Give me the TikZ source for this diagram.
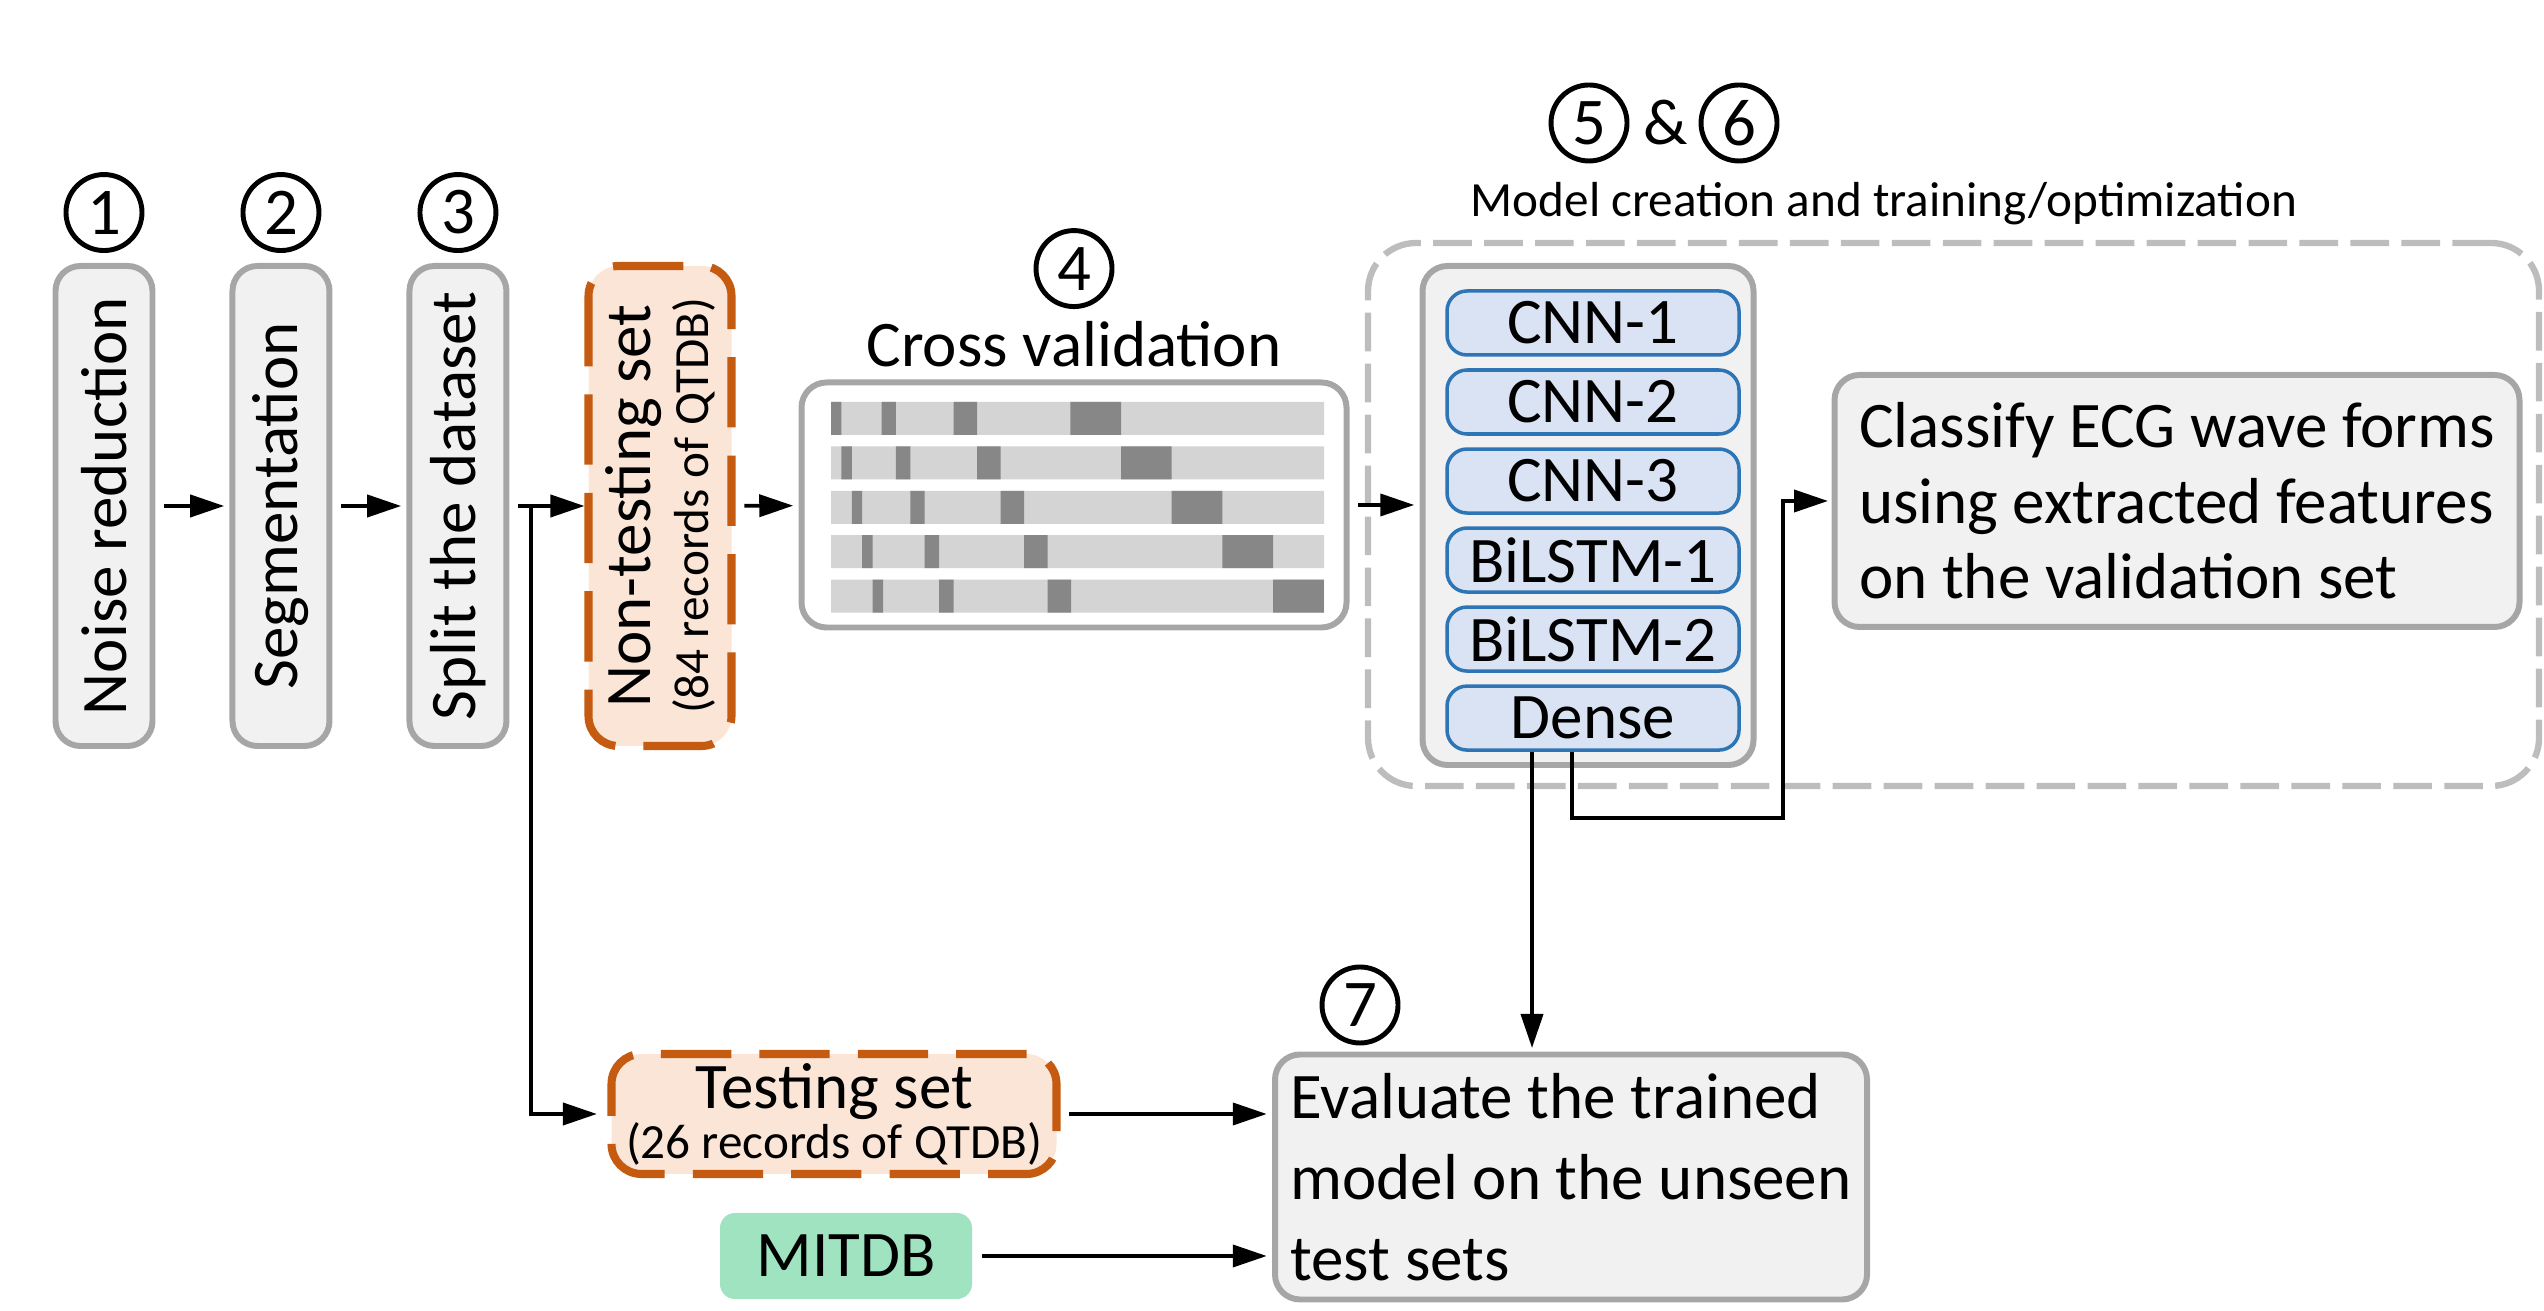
\documentclass[tikz,border=0pt]{standalone}
\usepackage{fontspec}
\usepackage{graphicx}
\setmainfont{Carlito}
\usetikzlibrary{positioning,arrows.meta}

\definecolor{boxgray}{HTML}{F1F1F1}
\definecolor{linegray}{HTML}{A6A6A6}
\definecolor{dashgray}{HTML}{BDBDBD}
\definecolor{setorange}{HTML}{C55A11}
\definecolor{setfill}{HTML}{FBE5D6}
\definecolor{layerblue}{HTML}{2E75B6}
\definecolor{layerfill}{HTML}{DAE3F3}
\definecolor{mitgreen}{HTML}{A0E3C0}
\definecolor{foldlight}{HTML}{D4D4D4}
\definecolor{folddark}{HTML}{878787}

\tikzset{
	stepbox/.style={draw=linegray, fill=boxgray, line width=1.7pt, rounded corners=0.25cm, inner sep=0pt},
	setbox/.style={draw=setorange, fill=setfill, line width=2.3pt, dash pattern=on 20pt off 8pt, rounded corners=0.3cm, inner sep=0pt},
	layer/.style={draw=layerblue, fill=layerfill, line width=1pt, rounded corners=0.2cm, minimum width=2.92cm, minimum height=0.64cm, inner sep=0pt},
	num/.style={circle, draw, line width=1.4pt, minimum size=0.76cm, inner sep=0pt, font=\fontsize{19}{19}\selectfont},
	flow/.style={->, line width=1.1pt},
	small/.style={font=\fontsize{14}{14.2}\selectfont}
}

\begin{document}
\begin{tikzpicture}[>={Triangle[length=0.34cm,width=0.22cm]}, font=\fontsize{18.5}{22}\selectfont]
	\useasboundingbox (0,0) rectangle (25.44,13.11);

	% preprocessing steps
	\node[stepbox, minimum width=0.97cm, minimum height=4.8cm]	(noise)	at (1.04,8.05)	{\rotatebox{90}{Noise reduction}};
	\node[stepbox, minimum width=0.97cm, minimum height=4.8cm]	(seg)	[right=0.74cm of noise]	{\rotatebox{90}{Segmentation}};
	\node[stepbox, minimum width=0.97cm, minimum height=4.8cm]	(split)	[right=0.74cm of seg]	{\rotatebox{90}{Split the dataset}};
	\node[setbox, rotate=90, minimum width=4.8cm, minimum height=1.43cm, align=center, font=\fontsize{14}{16.5}\selectfont]	(nontest)	at (6.60,8.05)
		{{\fontsize{18.5}{16.5}\selectfont Non-testing set}\\(84 records of QTDB)};
	\node[num]	(n1)	[above=0.1cm of noise]	{1};
	\node[num]	(n2)	[above=0.1cm of seg]	{2};
	\node[num]	(n3)	[above=0.1cm of split]	{3};

	% cross validation
	\node[stepbox, fill=white, minimum width=5.45cm, minimum height=2.45cm]	(cv)	at (10.74,8.06)	{};
	\node	(cvlabel)	[above=0cm of cv]	{Cross validation};
	\node[num]	(n4)	[above=0cm of cvlabel]	{4};
	\fill[foldlight] (8.31,9.09) rectangle (13.24,8.76) (8.31,8.646) rectangle (13.24,8.316) (8.31,8.202) rectangle (13.24,7.872)
		(8.31,7.758) rectangle (13.24,7.428) (8.31,7.314) rectangle (13.24,6.984);
	\fill[folddark] (8.310,9.09) rectangle (8.414,8.76) (8.815,9.09) rectangle (8.959,8.76) (9.536,9.09) rectangle (9.771,8.76) (10.703,9.09) rectangle (11.210,8.76);
	\fill[folddark] (8.414,8.646) rectangle (8.518,8.316) (8.959,8.646) rectangle (9.103,8.316) (9.771,8.646) rectangle (10.006,8.316) (11.210,8.646) rectangle (11.717,8.316);
	\fill[folddark] (8.518,8.202) rectangle (8.622,7.872) (9.103,8.202) rectangle (9.247,7.872) (10.006,8.202) rectangle (10.241,7.872) (11.717,8.202) rectangle (12.224,7.872);
	\fill[folddark] (8.622,7.758) rectangle (8.726,7.428) (9.247,7.758) rectangle (9.391,7.428) (10.241,7.758) rectangle (10.476,7.428) (12.224,7.758) rectangle (12.731,7.428);
	\fill[folddark] (8.726,7.314) rectangle (8.830,6.984) (9.391,7.314) rectangle (9.535,6.984) (10.476,7.314) rectangle (10.711,6.984) (12.731,7.314) rectangle (13.238,6.984);

	% model creation and training
	\node[draw=dashgray, line width=1.8pt, dash pattern=on 11pt off 3.5pt, rounded corners=0.48cm, minimum width=11.71cm, minimum height=5.43cm]	(stage)	at (19.535,7.965)	{};
	\node[stepbox, minimum width=3.31cm, minimum height=4.99cm]	(model)	at (15.88,7.955)	{};
	\node[layer]	(cnn1)	at (15.93,9.88)	{CNN-1};
	\node[layer]	(cnn2)	[below=0.115cm of cnn1]	{CNN-2};
	\node[layer]	(cnn3)	[below=0.115cm of cnn2]	{CNN-3};
	\node[layer]	(lstm1)	[below=0.115cm of cnn3]	{BiLSTM-1};
	\node[layer]	(lstm2)	[below=0.115cm of lstm1]	{BiLSTM-2};
	\node[layer]	(dense)	[below=0.115cm of lstm2]	{Dense};
	\node[stepbox, minimum width=6.85cm, minimum height=2.52cm, align=left, font=\fontsize{18.5}{21.5}\selectfont]	(classify)	at (21.77,8.10)
		{Classify ECG wave forms\\using extracted features\\on the validation set};
	\node[num]	(n5)	at (15.89,11.88)	{5};
	\node		(amp)	at (16.66,11.88)	{\&};
	\node[num]	(n6)	at (17.39,11.88)	{6};
	\node[small]	(stagelabel)	at (18.84,11.07)	{Model creation and training/optimization};

	% evaluation
	\node[setbox, minimum width=4.45cm, minimum height=1.2cm, align=center, small]	(testing)	at (8.34,1.97)
		{{\fontsize{18.5}{14.2}\selectfont Testing set}\\(26 records of QTDB)};
	\node[fill=mitgreen, rounded corners=0.15cm, minimum width=2.52cm, minimum height=0.86cm]	(mitdb)	at (8.46,0.55)	{MITDB};
	\node[stepbox, minimum width=5.92cm, minimum height=2.45cm, align=left, font=\fontsize{18.5}{23}\selectfont]	(eval)	at (15.71,1.34)
		{Evaluate the trained\\model on the unseen\\test sets};
	\node[num]	(n7)	at (13.60,3.06)	{7};

	% connectors
	\coordinate[right=0.215cm of split]	(fork);
	\coordinate	(bend)	at (17.83,4.93);
	\path[flow, shorten <=2.5pt, shorten >=1.5pt]
		(noise)	edge	(seg)
		(seg)	edge	(split)
		(nontest)	edge	(cv)
		(cv.east)	edge	(cv.east -| model.west)
		(testing)	edge	(testing -| eval.west)
		(mitdb)	edge	(mitdb -| eval.west)
		;
	\draw[flow, shorten <=2.5pt] (split) -- (nontest);
	\draw[flow, shorten >=3pt] (fork) |- (testing);
	\draw[flow, shorten >=1pt] ([xshift=-0.61cm]dense.south) -- ([xshift=-0.61cm]dense.south |- eval.north);
	\draw[flow, shorten >=1pt] ([xshift=-0.21cm]dense.south) |- (bend) |- (classify.west);
\end{tikzpicture}
\end{document}
